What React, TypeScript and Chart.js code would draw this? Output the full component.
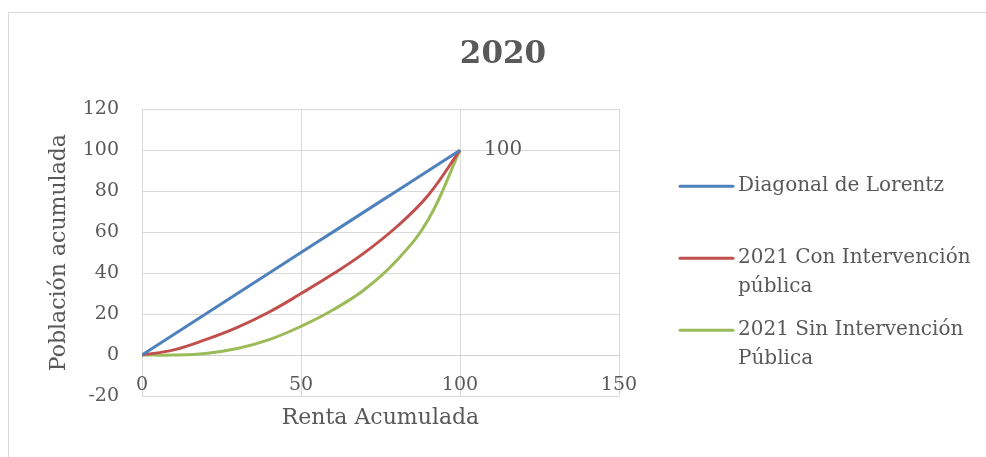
import React, { useEffect, useRef } from "react";
import { Chart, registerables } from "chart.js";

Chart.register(...registerables);

// ---- data ----
const chartTitle = "2020";
const xAxisTitle = "Renta Acumulada";
const yAxisTitle = "Población acumulada";
const renta = [0, 10, 20, 30, 40, 50, 60, 70, 80, 90, 100];
const diagonal = [0, 10, 20, 30, 40, 50, 60, 70, 80, 90, 100];
const conIntervencion = [0, 2.5, 7.5, 13.5, 21, 30, 39.5, 50, 62.5, 78, 100];
const sinIntervencion = [0, 0, 0.8, 3.2, 7.5, 14, 22, 32, 46, 66, 100];
const seriesNames = [
  "Diagonal de Lorentz",
  "2021 Con Intervención pública",
  "2021 Sin Intervención Pública",
];
const legendLines = [
  ["Diagonal de Lorentz"],
  ["2021 Con Intervención", "pública"],
  ["2021 Sin Intervención", "Pública"],
];
const seriesColors = ["#4F81BD", "#C0504D", "#9BBB59"];
const xMin = 0, xMax = 150, xStep = 50;
const yMin = -20, yMax = 120, yStep = 20;

const FONT = "'DejaVu Serif', 'Liberation Serif', serif";
const TEXT = "#595959";
const GRID = "#d9d9d9";

const toPoints = (ys: number[]) => renta.map((x, i) => ({ x, y: ys[i] }));

const customPlugin = {
  id: "customLegendAndLabel",
  afterDatasetsDraw(chart: any) {
    const ctx = chart.ctx;
    const xs = chart.scales.x;
    const ys = chart.scales.y;
    // data label on the last point of the diagonal
    const last = diagonal.length - 1;
    const px = xs.getPixelForValue(renta[last]);
    const py = ys.getPixelForValue(diagonal[last]);
    ctx.save();
    ctx.font = `20px ${FONT}`;
    ctx.fillStyle = TEXT;
    ctx.textAlign = "left";
    ctx.textBaseline = "middle";
    ctx.fillText(String(diagonal[last]), px + 24, py);
    ctx.restore();
  },
  afterDraw(chart: any) {
    const ctx = chart.ctx;
    const box = chart.scales.y2;
    const area = chart.chartArea;
    const lx = box.left + 61;
    ctx.save();
    ctx.font = `20px ${FONT}`;
    ctx.textAlign = "left";
    ctx.textBaseline = "middle";
    legendLines.forEach((lines, i) => {
      const y = area.top + 77 + i * 72;
      ctx.strokeStyle = seriesColors[i];
      ctx.lineWidth = 3;
      ctx.lineCap = "round";
      ctx.beginPath();
      ctx.moveTo(lx, y);
      ctx.lineTo(lx + 53, y);
      ctx.stroke();
      ctx.fillStyle = TEXT;
      lines.forEach((t, j) => ctx.fillText(t, lx + 58, y + j * 29));
    });
    ctx.restore();
  },
};

export default function App() {
  const ref = useRef<HTMLCanvasElement | null>(null);
  useEffect(() => {
    if (!ref.current) return;
    const data = [diagonal, conIntervencion, sinIntervencion];
    const chart = new Chart(ref.current, {
      type: "scatter",
      data: {
        datasets: data.map((ys, i) => ({
          label: seriesNames[i],
          data: toPoints(ys),
          showLine: true,
          borderColor: seriesColors[i],
          backgroundColor: seriesColors[i],
          borderWidth: 3,
          pointRadius: 0,
          pointHoverRadius: 0,
          tension: 0.4,
          yAxisID: "y",
        })),
      },
      options: {
        responsive: false,
        animation: false,
        layout: { padding: { left: 20, right: 0, top: 12, bottom: 0 } },
        plugins: {
          legend: { display: false },
          tooltip: { enabled: false },
          title: {
            display: true,
            text: chartTitle,
            color: TEXT,
            font: { family: FONT, size: 31, weight: "bold" },
            padding: { top: 24, bottom: 36 },
          },
        },
        scales: {
          x: {
            type: "linear",
            position: "bottom",
            min: xMin,
            max: xMax,
            ticks: {
              stepSize: xStep,
              color: TEXT,
              font: { family: FONT, size: 19 },
              padding: 0,
              mirror: true,
              maxRotation: 0,
            },
            grid: { color: GRID, drawTicks: false },
            border: { display: false },
            title: {
              display: true,
              text: xAxisTitle,
              color: TEXT,
              font: { family: FONT, size: 22 },
              padding: { top: 0, bottom: 26 },
            },
            afterFit: (s: any) => {
              s.height = 61;
            },
          },
          y: {
            type: "linear",
            position: "left",
            min: yMin,
            max: yMax,
            ticks: {
              stepSize: yStep,
              color: TEXT,
              font: { family: FONT, size: 19 },
              padding: 23,
            },
            grid: {
              color: (c: any) => (c.tick && c.tick.value === 0 ? "#cfcfcf" : GRID),
              drawTicks: false,
            },
            border: { display: false },
            title: {
              display: true,
              text: yAxisTitle,
              color: TEXT,
              font: { family: FONT, size: 22 },
              padding: { top: 26, bottom: 0 },
            },
            afterFit: (s: any) => {
              s.width = 122;
            },
          },
          y2: {
            type: "linear",
            position: "right",
            display: true,
            ticks: { display: false },
            grid: { display: false, drawTicks: false },
            border: { display: false },
            afterFit: (s: any) => {
              s.width = 367;
            },
          },
        },
      },
      plugins: [customPlugin],
    } as any);
    return () => chart.destroy();
  }, []);

  return (
    <div style={{ position: "fixed", left: 0, top: 0, width: 986, height: 457, background: "#fff", overflow: "hidden" }}>
      <div
        style={{
          position: "absolute",
          left: 8,
          top: 12,
          width: 1000,
          height: 500,
          border: "1px solid #d9d9d9",
          boxSizing: "border-box",
        }}
      />
      <canvas ref={ref} width={986} height={457} style={{ position: "absolute", left: 0, top: 0 }} />
    </div>
  );
}
